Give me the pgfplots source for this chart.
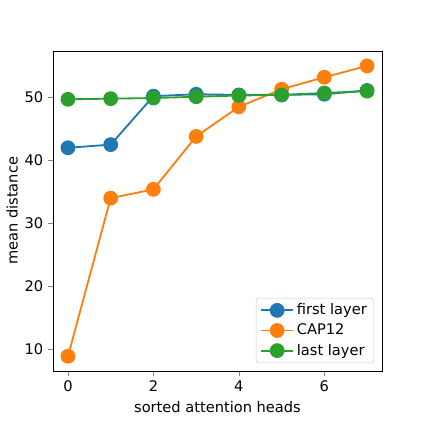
\documentclass[border=0pt]{standalone}
\usepackage{pgfplots}
\pgfplotsset{compat=1.18}
\usepackage{fontspec}
\setmainfont{DejaVu Sans}
\definecolor{tabblue}{HTML}{1F77B4}
\definecolor{taborange}{HTML}{FF7F0E}
\definecolor{tabgreen}{HTML}{2CA02C}
\begin{document}
\begin{tikzpicture}
\useasboundingbox (-1.325cm,-1.325cm) rectangle (9.275cm,9.27cm);
\begin{axis}[
    at={(0,0)}, anchor=south west,
    scale only axis,
    width=8.225cm, height=8.0cm,
    xmin=-0.35, xmax=7.35,
    ymin=6.49, ymax=57.3,
    xtick={0,2,4,6},
    ytick={10,20,30,40,50},
    tick align=outside,
    xtick pos=left, ytick pos=left,
    major tick length=0.12cm,
    /pgf/number format/assume math mode=true,
    ticklabel style={font=\fontsize{10.4}{12}\selectfont},
    label style={font=\fontsize{10.4}{12}\selectfont},
    xlabel={sorted attention heads},
    ylabel={mean distance},
    ylabel style={yshift=-2pt},
    every axis plot/.append style={line width=1.3pt, mark=*, mark size=4.6pt},
    legend style={at={(0.976,0.024)}, anchor=south east,
        font=\fontsize{10.4}{12}\selectfont, draw=black!20, rounded corners=2pt,
        row sep=1pt},
    legend cell align=left,
    legend image code/.code={
        \draw[mark repeat=2,mark phase=2] plot coordinates {(0cm,0cm) (0.4cm,0cm) (0.8cm,0cm)};
    },
]
\addplot[color=tabblue] coordinates {
    (0,41.9) (1,42.4) (2,50.1) (3,50.4) (4,50.3) (5,50.3) (6,50.4) (7,51.0)
};
\addplot[color=taborange] coordinates {
    (0,8.8) (1,33.9) (2,35.3) (3,43.7) (4,48.4) (5,51.2) (6,53.1) (7,54.9)
};
\addplot[color=tabgreen] coordinates {
    (0,49.6) (1,49.7) (2,49.8) (3,50.0) (4,50.2) (5,50.3) (6,50.6) (7,50.9)
};
\legend{first layer, CAP12, last layer}
\end{axis}
\end{tikzpicture}
\end{document}
